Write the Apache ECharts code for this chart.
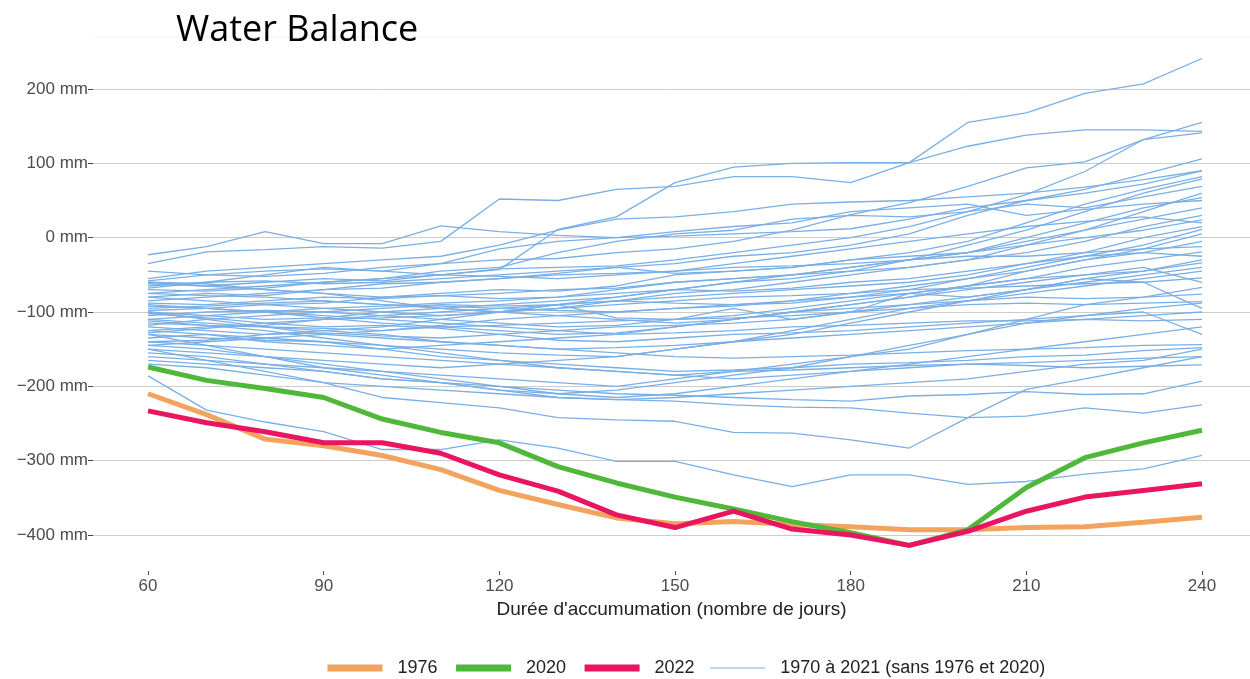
<!DOCTYPE html>
<html lang="fr">
<head>
<meta charset="utf-8">
<title>Water Balance</title>
<script src="https://cdn.jsdelivr.net/npm/echarts@6/dist/echarts.min.js"></script>
<style>
    html, body { margin: 0; padding: 0; background: #fff; }
    #main { width: 1250px; height: 679px; }
</style>
</head>
<body>
<div id="main"></div>
<script>
    // accumulation duration (days)
    var days = [60, 70, 80, 90, 100, 110, 120, 130, 140, 150, 160, 170, 180, 190, 200, 210, 220, 230, 240];
    var xTicks = [60, 90, 120, 150, 180, 210, 240];

    var v1976 = [-210, -238, -271, -280, -293, -312, -340, -359, -377, -385, -382, -386, -389, -393, -393, -390, -389, -383, -376];
    var v2020 = [-174, -192, -203, -215, -244, -262, -276, -308, -330, -349, -365, -382, -397, -414, -393, -336, -296, -276, -259];
    var v2022 = [-233, -249, -261, -276, -276, -290, -319, -341, -373, -390, -368, -392, -400, -414, -395, -368, -349, -340, -331];

    // 1970 - 2021 without 1976 and 2020
    var otherYears = [
        [-35, -19, -16, -12, -14, -5, 52, 50, 65, 69, 82, 82, 74, 101, 155, 168, 194, 207, 241],
        [-23, -12, 8, -8, -8, 16, 8, 3, 0, 2, 5, 8, 12, 25, 40, 50, 60, 72, 90],
        [-75, -70, -65, -60, -55, -50, -43, 11, 28, 74, 95, 100, 101, 101, 123, 138, 145, 145, 143],
        [-45, -50, -52, -48, -40, -35, -30, -28, -20, -15, -5, 10, 31, 47, 69, 94, 102, 132, 155],
        [-62, -65, -60, -55, -58, -50, -42, -40, -38, -30, -20, -10, 0, 15, 35, 58, 89, 132, 141],
        [-80, -75, -78, -70, -62, -60, -55, -48, -40, -35, -25, -20, -10, 5, 30, 50, 65, 85, 106],
        [-55, -45, -40, -35, -30, -25, -10, 10, 25, 28, 35, 45, 48, 50, 55, 60, 68, 78, 90],
        [-98, -95, -90, -88, -80, -75, -70, -72, -65, -50, -45, -40, -30, -20, -5, 20, 45, 65, 82],
        [-110, -105, -100, -95, -92, -88, -85, -80, -70, -60, -55, -50, -45, -30, -10, 10, 35, 60, 79],
        [-70, -72, -68, -60, -55, -45, -40, -20, -5, 5, 10, 25, 30, 28, 35, 45, 40, 55, 69],
        [-125, -120, -118, -110, -105, -100, -95, -90, -85, -75, -70, -60, -50, -40, -30, -10, 10, 35, 60],
        [-65, -60, -58, -62, -60, -55, -50, -45, -40, -48, -45, -40, -30, -25, -20, 0, 20, 40, 54],
        [-88, -90, -85, -80, -82, -78, -75, -70, -68, -60, -55, -50, -40, -30, -20, -5, 10, 25, 40],
        [-100, -105, -110, -108, -100, -95, -90, -85, -80, -70, -60, -55, -45, -40, -30, -20, -5, 15, 30],
        [-140, -138, -130, -125, -120, -110, -100, -90, -80, -70, -60, -50, -40, -30, -20, -10, 0, 10, 24],
        [-60, -62, -70, -75, -80, -78, -82, -80, -75, -70, -72, -68, -60, -55, -45, -35, -20, 0, 15],
        [-115, -118, -120, -122, -125, -118, -110, -105, -100, -95, -90, -85, -75, -65, -55, -40, -25, -10, 11],
        [-135, -130, -140, -145, -150, -145, -140, -135, -130, -120, -110, -100, -90, -80, -65, -45, -30, -15, 5],
        [-85, -80, -75, -70, -68, -60, -55, -50, -48, -45, -40, -38, -35, -30, -25, -25, -20, -15, -12],
        [-105, -100, -98, -100, -105, -110, -115, -120, -118, -110, -105, -95, -85, -75, -65, -55, -40, -30, -19],
        [-150, -155, -160, -165, -170, -175, -170, -165, -160, -150, -140, -130, -115, -100, -85, -70, -55, -45, -30],
        [-75, -78, -80, -85, -90, -92, -95, -98, -100, -95, -92, -85, -80, -75, -65, -55, -50, -45, -34],
        [-130, -135, -138, -140, -145, -150, -155, -158, -160, -150, -140, -125, -110, -95, -85, -75, -65, -55, -45],
        [-95, -92, -88, -85, -90, -95, -100, -90, -108, -110, -95, -110, -100, -75, -80, -70, -55, -60, -54],
        [-145, -150, -160, -170, -180, -185, -190, -195, -200, -190, -180, -170, -160, -150, -130, -110, -90, -80, -67],
        [-60, -65, -70, -75, -85, -95, -100, -105, -110, -115, -110, -100, -95, -90, -85, -80, -82, -80, -76],
        [-120, -125, -130, -128, -132, -135, -130, -125, -120, -118, -115, -110, -100, -95, -90, -88, -90, -88, -86],
        [-160, -165, -170, -175, -180, -190, -200, -210, -205, -195, -185, -175, -160, -145, -130, -115, -105, -95, -88],
        [-110, -115, -120, -125, -130, -140, -145, -150, -148, -145, -140, -135, -130, -125, -120, -115, -110, -105, -100],
        [-90, -95, -100, -105, -110, -115, -120, -125, -130, -128, -125, -120, -118, -115, -112, -112, -110, -112, -110],
        [-165, -170, -175, -180, -190, -195, -205, -210, -215, -210, -200, -190, -180, -170, -160, -150, -140, -130, -120],
        [-100, -110, -120, -130, -135, -140, -145, -150, -155, -160, -162, -160, -158, -155, -152, -150, -148, -145, -144],
        [-125, -130, -135, -140, -150, -160, -165, -170, -175, -180, -178, -175, -170, -168, -165, -160, -158, -152, -148],
        [-140, -145, -150, -155, -160, -165, -170, -175, -180, -185, -190, -185, -180, -175, -170, -168, -165, -162, -160],
        [-112, -118, -125, -135, -145, -155, -165, -175, -180, -185, -180, -178, -175, -172, -170, -172, -175, -173, -171],
        [-155, -160, -170, -180, -190, -195, -200, -205, -210, -212, -215, -218, -220, -213, -211, -207, -211, -210, -193],
        [-130, -145, -160, -175, -185, -195, -205, -215, -218, -220, -225, -228, -229, -236, -242, -240, -229, -236, -225],
        [-150, -165, -180, -195, -215, -222, -229, -242, -245, -247, -262, -263, -272, -283, -242, -204, -190, -175, -160],
        [-186, -232, -248, -261, -285, -285, -272, -283, -301, -301, -319, -335, -319, -319, -332, -328, -318, -311, -293],
        [-68, -60, -50, -40, -45, -35, -15, -5, 0, 8, 15, 20, 35, 40, 45, 30, 38, 45, 50],
        [-80, -85, -90, -95, -100, -105, -100, -95, -85, -80, -75, -70, -65, -60, -50, -35, -25, -20, -5],
        [-118, -110, -105, -100, -95, -90, -92, -90, -85, -88, -90, -88, -80, -70, -55, -45, -30, -20, -25],
        [-145, -140, -135, -130, -125, -120, -118, -115, -112, -110, -108, -105, -100, -90, -80, -70, -60, -50, -40],
        [-170, -175, -185, -195, -200, -205, -210, -215, -218, -215, -210, -205, -200, -195, -190, -180, -170, -165, -150],
        [-92, -95, -100, -108, -115, -120, -125, -130, -128, -120, -110, -100, -90, -80, -70, -60, -50, -40, -60],
        [-58, -50, -45, -42, -45, -50, -52, -55, -50, -45, -35, -25, -15, -5, 5, 15, 22, 28, 20],
        [-128, -122, -115, -110, -108, -105, -100, -95, -90, -85, -80, -78, -75, -70, -68, -65, -62, -60, -95],
        [-102, -108, -115, -120, -118, -122, -130, -138, -140, -135, -130, -128, -125, -120, -115, -110, -105, -100, -130]
    ];

    var otherName = '1970 à 2021 (sans 1976 et 2020)';
    var textFont = "'Liberation Sans', Arial, sans-serif";

    function pairs(vals) {
        return days.map(function (d, i) { return [d, vals[i]]; });
    }

    var series = otherYears.map(function (vals) {
        return {
            type: 'line',
            name: otherName,
            data: pairs(vals),
            symbol: 'none',
            clip: false,
            silent: true,
            z: 1,
            lineStyle: { width: 1.3, color: '#7aafe6' },
            itemStyle: { color: '#7aafe6' }
        };
    });

    function bold(name, vals, color, z) {
        return {
            type: 'line',
            name: name,
            data: pairs(vals),
            symbol: 'none',
            clip: false,
            z: z,
            lineStyle: { width: 5, color: color },
            itemStyle: { color: color }
        };
    }
    series.push(bold('1976', v1976, '#f2a35e', 3));
    series.push(bold('2020', v2020, '#4fb83b', 4));
    series.push(bold('2022', v2022, '#ea1560', 5));

    var myChart = echarts.init(document.getElementById('main'));
    myChart.setOption({
        animation: false,
        title: {
            text: 'Water Balance',
            left: 171,
            top: 8,
            textStyle: { fontFamily: "'Open Sans', sans-serif", fontSize: 36, fontWeight: 'normal', color: '#000' }
        },
        graphic: [{
            type: 'line',
            shape: { x1: 95, y1: 37, x2: 1250, y2: 37 },
            style: { stroke: '#efefef', lineWidth: 1 }
        }],
        legend: {
            left: 319,
            top: 654,
            itemWidth: 55,
            itemHeight: 14,
            itemGap: 15,
            textStyle: { fontFamily: textFont, fontSize: 18, color: '#222', padding: [0, 0, 0, 10] },
            data: [
                { name: '1976', lineStyle: { width: 7 }, itemStyle: { opacity: 0 } },
                { name: '2020', lineStyle: { width: 7 }, itemStyle: { opacity: 0 } },
                { name: '2022', lineStyle: { width: 7 }, itemStyle: { opacity: 0 } },
                { name: otherName, lineStyle: { width: 1 }, itemStyle: { opacity: 0 } }
            ]
        },
        grid: { left: 93, right: 0, top: 89, bottom: 144 },
        xAxis: {
            type: 'value',
            min: 50.6,
            max: 248.2,
            offset: 36,
            axisLine: { show: false, onZero: false },
            axisTick: { show: true, length: 4, customValues: xTicks, lineStyle: { color: '#555' } },
            axisLabel: { customValues: xTicks, margin: 7, fontFamily: textFont, fontSize: 17, color: '#4d4d4d' },
            splitLine: { show: false },
            name: "Durée d'accumumation (nombre de jours)",
            nameLocation: 'middle',
            nameGap: 28,
            nameTextStyle: { fontFamily: textFont, fontSize: 19, color: '#222' }
        },
        yAxis: {
            type: 'value',
            min: -400,
            max: 200,
            interval: 100,
            axisLine: { show: false },
            axisTick: { show: true, length: 5, lineStyle: { color: '#444' } },
            axisLabel: {
                margin: 5,
                fontFamily: textFont,
                fontSize: 17,
                color: '#4d4d4d',
                formatter: function (v) { return String(v).replace('-', '\u2212') + ' mm'; }
            },
            splitLine: { lineStyle: { color: '#cccccc', width: 1 } }
        },
        series: series
    });
</script>
</body>
</html>
